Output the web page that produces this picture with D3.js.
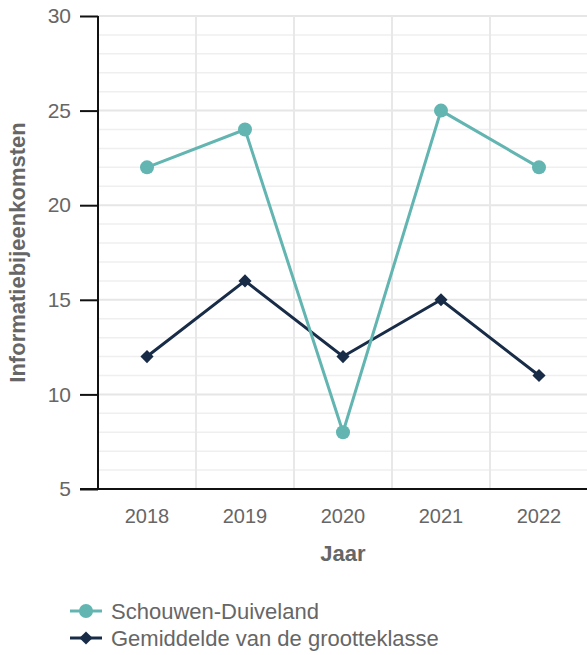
<!DOCTYPE html>
<html lang="nl">
<head>
<meta charset="UTF-8">
<title>Informatiebijeenkomsten</title>
<script src="https://d3js.org/d3.v7.min.js"></script>
<style>
  body { margin: 0; background: #fff; font-family: Arial, "Liberation Sans", sans-serif; }
</style>
</head>
<body>
<div id="chart"></div>
<script>
// data
var years = ["2018", "2019", "2020", "2021", "2022"];
var schouwen = [22, 24, 8, 25, 22];
var gemiddelde = [12, 16, 12, 15, 11];
var yTicks = [5, 10, 15, 20, 25, 30];
var seriesNames = ["Schouwen-Duiveland", "Gemiddelde van de grootteklasse"];

var width = 587, height = 655;
var plotLeft = 98, plotRight = 588, plotTop = 16, plotBottom = 489;
var teal = "#62b5b1", navy = "#182c48";
var font = "Arial, 'Liberation Sans', sans-serif";

var svg = d3.select("#chart").append("svg")
    .attr("width", width)
    .attr("height", height);

var x = d3.scaleBand().domain(years).range([plotLeft, plotRight]);
var y = d3.scaleLinear().domain([5, 30]).range([plotBottom, plotTop]);

// minor grid every 1
svg.append("g").selectAll("line")
    .data(d3.range(6, 31))
    .enter().append("line")
    .attr("x1", plotLeft).attr("x2", plotRight)
    .attr("y1", function(d){ return y(d); })
    .attr("y2", function(d){ return y(d); })
    .attr("stroke", function(d){ return d % 5 == 0 ? "#e6e6e6" : "#efefef"; })
    .attr("stroke-width", function(d){ return d % 5 == 0 ? 2 : 1.5; });

// vertical grid at band edges
svg.append("g").selectAll("line")
    .data(years.slice(1))
    .enter().append("line")
    .attr("x1", function(d){ return x(d); })
    .attr("x2", function(d){ return x(d); })
    .attr("y1", plotTop).attr("y2", plotBottom)
    .attr("stroke", "#e8e8e8")
    .attr("stroke-width", 2);

// y axis
var yAxis = svg.append("g")
    .attr("transform", "translate(" + plotLeft + ",0)")
    .call(d3.axisLeft(y).tickValues(yTicks).tickSize(18).tickPadding(9));
yAxis.select(".domain").attr("stroke", "#111").attr("stroke-width", 2).attr("d", "M0," + plotTop + "V" + plotBottom);
yAxis.selectAll(".tick line").attr("stroke", "#111").attr("stroke-width", 2);
yAxis.selectAll("text").attr("fill", "#666").style("font-size", "21px").style("font-family", font);

// x axis
var xAxis = svg.append("g")
    .attr("transform", "translate(0," + plotBottom + ")")
    .call(d3.axisBottom(x).tickSize(0).tickPadding(20));
xAxis.select(".domain").attr("stroke", "#111").attr("stroke-width", 2).attr("d", "M80,0H" + plotRight);
xAxis.selectAll("text").attr("fill", "#666").style("font-size", "20px").style("font-family", font);

// axis titles
svg.append("text")
    .attr("transform", "translate(25," + ((plotTop + plotBottom) / 2) + ") rotate(-90)")
    .attr("text-anchor", "middle")
    .attr("fill", "#666")
    .style("font-size", "22px")
    .style("font-weight", "bold")
    .style("font-family", font)
    .text("Informatiebijeenkomsten");

svg.append("text")
    .attr("x", (plotLeft + plotRight) / 2)
    .attr("y", 561)
    .attr("text-anchor", "middle")
    .attr("fill", "#666")
    .style("font-size", "22px")
    .style("font-weight", "bold")
    .style("font-family", font)
    .text("Jaar");

var line = d3.line()
    .x(function(d, i){ return x(years[i]) + x.bandwidth() / 2; })
    .y(function(d){ return y(d); });

// gemiddelde series
svg.append("path")
    .datum(gemiddelde)
    .attr("d", line)
    .attr("fill", "none")
    .attr("stroke", navy)
    .attr("stroke-width", 3);
svg.append("g").selectAll("path")
    .data(gemiddelde)
    .enter().append("path")
    .attr("d", d3.symbol().type(d3.symbolDiamond2).size(110))
    .attr("transform", function(d, i){ return "translate(" + (x(years[i]) + x.bandwidth() / 2) + "," + y(d) + ")"; })
    .attr("fill", navy);

// schouwen series
svg.append("path")
    .datum(schouwen)
    .attr("d", line)
    .attr("fill", "none")
    .attr("stroke", teal)
    .attr("stroke-width", 3);
svg.append("g").selectAll("circle")
    .data(schouwen)
    .enter().append("circle")
    .attr("cx", function(d, i){ return x(years[i]) + x.bandwidth() / 2; })
    .attr("cy", function(d){ return y(d); })
    .attr("r", 7)
    .attr("fill", teal);

// legend
var legend = svg.append("g");
var legendY = [611, 638];
seriesNames.forEach(function(name, i){
    var g = legend.append("g").attr("transform", "translate(0," + legendY[i] + ")");
    var c = i == 0 ? teal : navy;
    g.append("line").attr("x1", 70).attr("x2", 102).attr("y1", 0).attr("y2", 0)
        .attr("stroke", c).attr("stroke-width", 3);
    if (i == 0) {
        g.append("circle").attr("cx", 86).attr("cy", 0).attr("r", 7).attr("fill", c);
    } else {
        g.append("path").attr("d", d3.symbol().type(d3.symbolDiamond2).size(110))
            .attr("transform", "translate(86,0)").attr("fill", c);
    }
    g.append("text").attr("x", 111).attr("y", 8)
        .attr("fill", "#666")
        .style("font-size", "22px")
        .style("font-family", font)
        .text(name);
});
</script>
</body>
</html>
